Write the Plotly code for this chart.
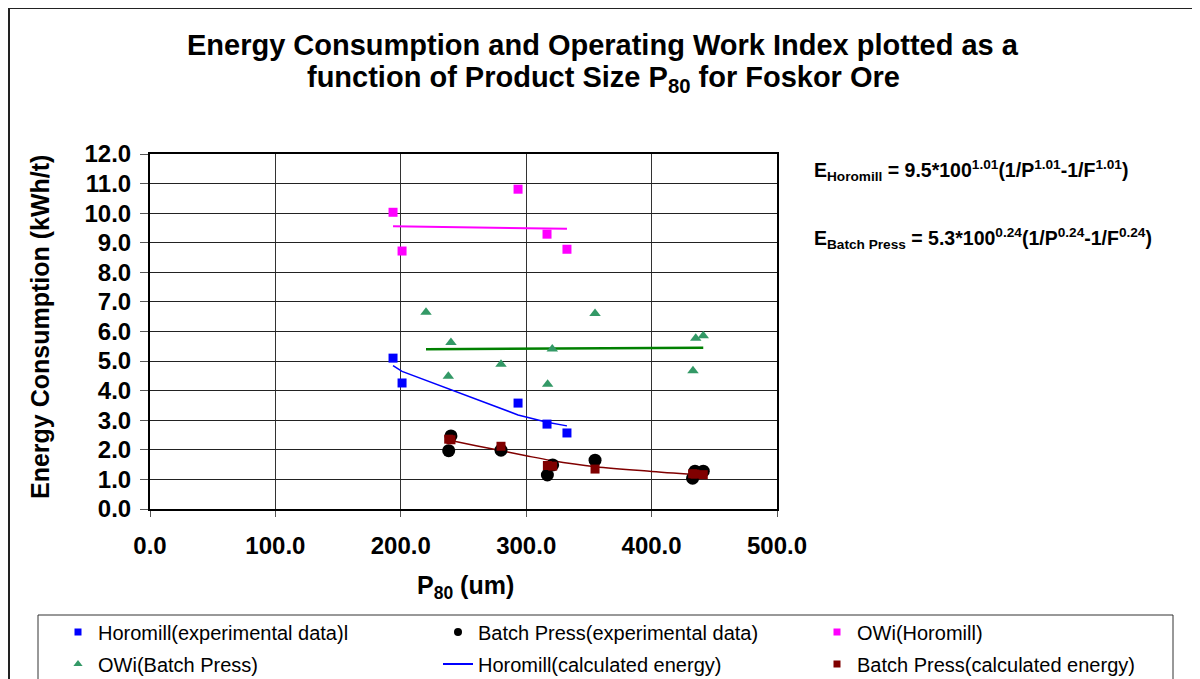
import plotly.graph_objects as go

# ---------------- data ----------------
horo_p80 = [193.8, 201.0, 293.5, 316.6, 332.5]
horo_energy_exp = [5.10, 4.26, 3.58, 2.87, 2.57]
horo_energy_calc = [4.85, 4.65, 3.18, 2.93, 2.81]
horo_owi = [10.03, 8.72, 10.81, 9.29, 8.78]
horo_owi_trend_x = [193.8, 332.5]
horo_owi_trend_y = [9.56, 9.47]

bp_p80_exp = [240.0, 238.2, 279.9, 321.1, 316.9, 354.9, 432.7, 434.6, 441.2]
bp_energy_exp = [2.47, 1.97, 1.99, 1.49, 1.15, 1.65, 1.04, 1.28, 1.28]
bp_p80_calc = [238.2, 240.0, 279.9, 316.9, 321.1, 354.9, 432.7, 434.6, 441.2]
bp_energy_calc = [2.36, 2.34, 2.12, 1.47, 1.45, 1.35, 1.19, 1.18, 1.16]
bp_trend_x = [236, 260, 280, 300, 320, 355, 400, 441]
bp_trend_y = [2.35, 2.14, 1.97, 1.80, 1.64, 1.43, 1.27, 1.15]

bp_owi_p80 = [220.1, 240.0, 237.9, 279.9, 320.8, 317.1, 354.9, 435.2, 441.2, 433.0]
bp_owi = [6.65, 5.63, 4.49, 4.89, 5.41, 4.22, 6.61, 5.77, 5.86, 4.67]
bp_owi_trend_x = [220.1, 441.2]
bp_owi_trend_y = [5.40, 5.45]

x_ticks = [0, 100, 200, 300, 400, 500]
y_ticks = [0, 1, 2, 3, 4, 5, 6, 7, 8, 9, 10, 11, 12]

FONT = "Liberation Sans, Arial, sans-serif"
BLUE = "#0000FF"
MAGENTA = "#FF00FF"
GREEN_M = "#339966"
GREEN_L = "#008000"
DARKRED = "#800000"

# The page body has an 8px margin, so the figure is 8px smaller and
# all reference pixel positions are shifted by that offset.
OFF = 8
W, H = 1200 - OFF, 679 - OFF
# plot-area edges in reference pixels
L, R, T, B = 150, 777, 154, 509


def px(xp):
    return (xp - L) / (R - L)


def py(yp):
    return (B - yp) / (B - T)


fig = go.Figure()

# trendlines (not in legend)
fig.add_trace(go.Scatter(x=horo_owi_trend_x, y=horo_owi_trend_y, mode="lines",
                         line=dict(color=MAGENTA, width=2), showlegend=False, hoverinfo="skip"))
fig.add_trace(go.Scatter(x=bp_owi_trend_x, y=bp_owi_trend_y, mode="lines",
                         line=dict(color=GREEN_L, width=2.5), showlegend=False, hoverinfo="skip"))
fig.add_trace(go.Scatter(x=bp_trend_x, y=bp_trend_y, mode="lines", line_shape="spline",
                         line=dict(color=DARKRED, width=1.5), showlegend=False, hoverinfo="skip"))

# data series
fig.add_trace(go.Scatter(x=horo_p80, y=horo_energy_calc, mode="lines",
                         line=dict(color=BLUE, width=1.5), showlegend=False))
fig.add_trace(go.Scatter(x=horo_p80, y=horo_energy_exp, mode="markers",
                         marker=dict(symbol="square", size=9, color=BLUE), showlegend=False))
fig.add_trace(go.Scatter(x=horo_p80, y=horo_owi, mode="markers",
                         marker=dict(symbol="square", size=9, color=MAGENTA), showlegend=False))
fig.add_trace(go.Scatter(x=bp_owi_p80, y=bp_owi, mode="markers",
                         marker=dict(symbol="triangle-up", size=10, color=GREEN_M), showlegend=False))
fig.add_trace(go.Scatter(x=bp_p80_exp, y=bp_energy_exp, mode="markers",
                         marker=dict(symbol="circle", size=13, color="black"), showlegend=False))
fig.add_trace(go.Scatter(x=bp_p80_calc, y=bp_energy_calc, mode="markers",
                         marker=dict(symbol="square", size=9, color=DARKRED), showlegend=False))

# legend entries: one small legend per entry, placed on a 3 x 2 grid
legend_names = ["Horomill(experimental data)l", "Batch Press(experimental data)", "OWi(Horomill)",
                "OWi(Batch Press)", "Horomill(calculated energy)", "Batch Press(calculated energy)"]
legend_styles = [
    dict(mode="markers", marker=dict(symbol="square", size=7, color=BLUE)),
    dict(mode="markers", marker=dict(symbol="circle", size=8, color="black")),
    dict(mode="markers", marker=dict(symbol="square", size=7, color=MAGENTA)),
    dict(mode="markers", marker=dict(symbol="triangle-up", size=8, color=GREEN_M)),
    dict(mode="lines", line=dict(color=BLUE, width=2)),
    dict(mode="markers", marker=dict(symbol="square", size=7, color=DARKRED)),
]
legend_text_x = [98, 478, 857]    # text start per column (reference px)
legend_row_y = [632, 664]         # row centre (reference px)

legend_layouts = {}
for i, (name, kw) in enumerate(zip(legend_names, legend_styles)):
    key = "legend" if i == 0 else f"legend{i + 1}"
    fig.add_trace(go.Scatter(x=[None], y=[None], name=name, legend=key, showlegend=True, **kw))
    col, row = i % 3, i // 3
    legend_layouts[key] = dict(
        x=px(legend_text_x[col] - 40), y=py(legend_row_y[row]),
        xanchor="left", yanchor="middle", orientation="v",
        bgcolor="rgba(0,0,0,0)", borderwidth=0,
        font=dict(family=FONT, size=20, color="black"))

shapes = [
    # outer chart frame
    dict(type="rect", xref="paper", yref="paper", x0=px(9), x1=px(1215), y0=py(8), y1=py(720),
         line=dict(color="#222", width=2), fillcolor="rgba(0,0,0,0)", layer="below"),
    # legend box
    dict(type="rect", xref="paper", yref="paper", x0=px(38), x1=px(1173), y0=py(615), y1=py(720),
         line=dict(color="#333", width=1), fillcolor="rgba(0,0,0,0)", layer="below"),
]

annotations = [
    dict(text="<b>Energy Consumption and Operating Work Index plotted as a</b>",
         xref="paper", yref="paper", x=px(603), y=py(45), showarrow=False,
         font=dict(family=FONT, size=29, color="black"), xanchor="center", yanchor="middle"),
    dict(text="<b>function of Product Size P<sub>80</sub> for Foskor Ore</b>",
         xref="paper", yref="paper", x=px(603), y=py(79), showarrow=False,
         font=dict(family=FONT, size=29, color="black"), xanchor="center", yanchor="middle"),
    dict(text="<b>Energy Consumption (kWh/t)</b>", xref="paper", yref="paper", x=px(40), y=py(327),
         textangle=-90, showarrow=False, font=dict(family=FONT, size=25, color="black"),
         xanchor="center", yanchor="middle"),
    dict(text="<b>P<sub>80</sub> (um)</b>", xref="paper", yref="paper", x=px(465), y=py(587),
         showarrow=False, font=dict(family=FONT, size=25, color="black"),
         xanchor="center", yanchor="middle"),
    dict(text="<b>E<sub>Horomill</sub> = 9.5*100<sup>1.01</sup>(1/P<sup>1.01</sup>-1/F<sup>1.01</sup>)</b>",
         xref="paper", yref="paper", x=px(812), y=py(170), showarrow=False,
         font=dict(family=FONT, size=19.5, color="black"), xanchor="left", yanchor="middle"),
    dict(text="<b>E<sub>Batch Press</sub> = 5.3*100<sup>0.24</sup>(1/P<sup>0.24</sup>-1/F<sup>0.24</sup>)</b>",
         xref="paper", yref="paper", x=px(812), y=py(238), showarrow=False,
         font=dict(family=FONT, size=19.5, color="black"), xanchor="left", yanchor="middle"),
]

fig.update_layout(
    width=W, height=H,
    margin=dict(l=L - OFF, r=W - (R - OFF), t=T - OFF, b=H - (B - OFF), autoexpand=False),
    paper_bgcolor="white", plot_bgcolor="white",
    font=dict(family=FONT, color="black"),
    shapes=shapes,
    annotations=annotations,
    showlegend=True,
    **legend_layouts,
)

fig.update_xaxes(range=[0, 500], tickvals=x_ticks, ticktext=[f"{v:.1f}" for v in x_ticks],
                 showgrid=True, gridcolor="#333", gridwidth=1, zeroline=False,
                 showline=True, linecolor="black", linewidth=2, mirror=True,
                 ticks="outside", ticklen=6, tickcolor="#555", tickwidth=1,
                 ticklabelstandoff=8,
                 tickfont=dict(family=FONT, size=24, color="black", weight="bold"))
fig.update_yaxes(range=[0, 12], tickvals=y_ticks, ticktext=[f"{v:.1f}" for v in y_ticks],
                 showgrid=True, gridcolor="#222", gridwidth=1, zeroline=False,
                 showline=True, linecolor="black", linewidth=2, mirror=True,
                 ticks="outside", ticklen=8, tickcolor="#555", tickwidth=1,
                 ticklabelstandoff=4,
                 tickfont=dict(family=FONT, size=24, color="black", weight="bold"))

fig.write_html("out.html")
